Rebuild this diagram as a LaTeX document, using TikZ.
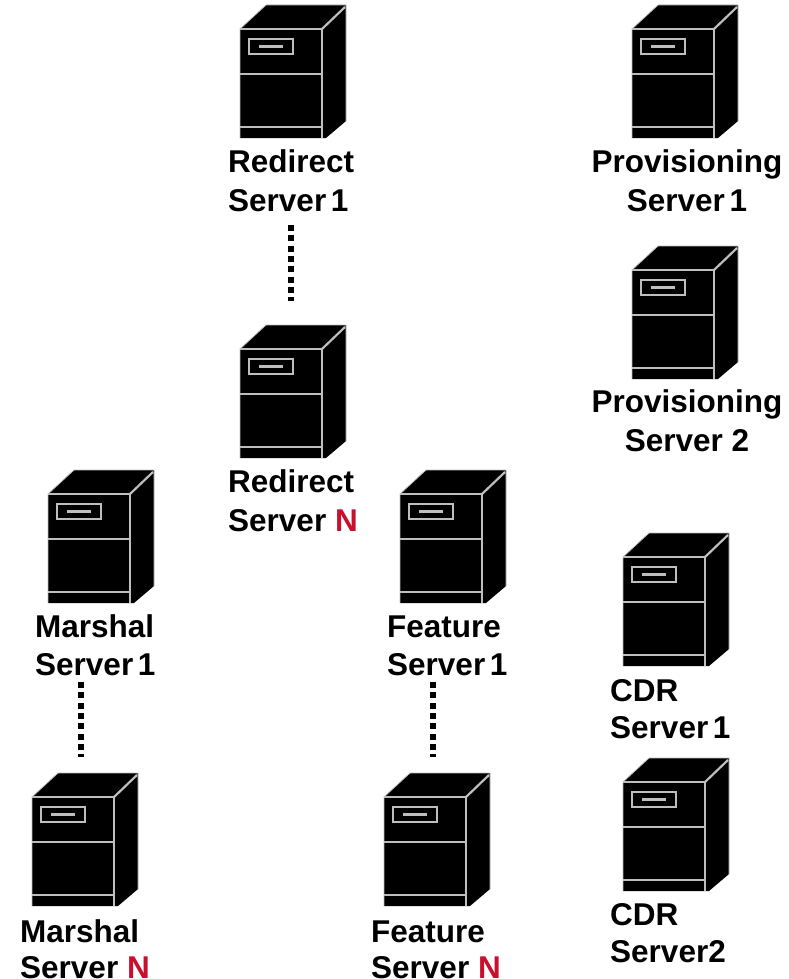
\documentclass[tikz,border=0pt]{standalone}
\usepackage{fontspec}
\setmainfont{Liberation Sans}
\definecolor{crim}{HTML}{C8102E}
\definecolor{edge}{HTML}{BEBEBE}
\tikzset{
  lab/.style={font=\bfseries\fontsize{31.5}{40}\selectfont,inner sep=0pt,anchor=north west,align=left},
  labc/.style={lab,align=center,anchor=north},
  dots/.style={line width=6pt,dash pattern=on 6pt off 4.3pt},
  edgeline/.style={draw=edge,line width=2.2pt},
  server/.pic={
    \fill[black] (0,24) -- (26,0) -- (106,0) -- (106,116) -- (86,133) -- (0,133) -- cycle;
    \draw[draw=edge,line width=.8pt] (0,133) -- (0,24) -- (26,0) -- (106,0) -- (106,116);
    \draw[edgeline] (0,24) -- (82,24) -- (82,133);
    \draw[edgeline] (82,24) -- (105,2);
    \draw[edgeline] (0,69) -- (82,69);
    \draw[edgeline] (0,122) -- (82,122);
    \draw[edgeline] (9,34) rectangle (53,49);
    \draw[draw=edge,line width=2.8pt] (19,41.5) -- (43,41.5);
    \coordinate (-top) at (52,0);
  }
}
\newcommand{\Nred}{\textcolor{crim}{N}}
\newcommand{\Lift}{\rule{0pt}{24pt}}
\newcommand{\One}{Server\kern-4pt\ 1}
\begin{document}
\begin{tikzpicture}[x=1pt,y=-1pt]
\useasboundingbox (0,0) rectangle (789,979);
\pic (rs1) at (240,5) {server};
\pic (rsn) at (240,325) {server};
\pic (ps1) at (632,5) {server};
\pic (ps2) at (632,246) {server};
\pic (ms1) at (48,470) {server};
\pic (fs1) at (400,470) {server};
\pic (cs1) at (623,533) {server};
\pic (cs2) at (623,758) {server};
\pic (msn) at (32,773) {server};
\pic (fsn) at (384,773) {server};
\node[lab] (rs1l) at (228,148) {\Lift Redirect\\[-1pt]\One};
\node[lab] (rsnl) at (228,468) {\Lift Redirect\\[-1pt]Server \Nred};
\node[labc] (ps1l) at (687,148) {\Lift Provisioning\\[-1pt]\One};
\node[labc] (ps2l) at (687,388) {\Lift Provisioning\\[-1pt]Server 2};
\node[lab] (ms1l) at (35,613) {\Lift Marshal\\[-2pt]\One};
\node[lab] (fs1l) at (387,613) {\Lift Feature\\[-2pt]\One};
\node[lab] (cs1l) at (610,677) {\Lift CDR\\[-3pt]\One};
\node[lab] (cs2l) at (610,901) {\Lift CDR\\[-3pt]Server2};
\node[lab] (msnl) at (20,918) {\Lift Marshal\\[-4pt]Server \Nred};
\node[lab] (fsnl) at (371,918) {\Lift Feature\\[-4pt]Server \Nred};
\coordinate (d1a) at (291,225);
\coordinate (d1b) at (291,301);
\coordinate (d2a) at (81,682);
\coordinate (d2b) at (81,757);
\coordinate (d3a) at (433,682);
\coordinate (d3b) at (433,757);
\draw[dots] (d1a) -- (d1b);
\draw[dots] (d2a) -- (d2b);
\draw[dots] (d3a) -- (d3b);
\end{tikzpicture}
\end{document}
